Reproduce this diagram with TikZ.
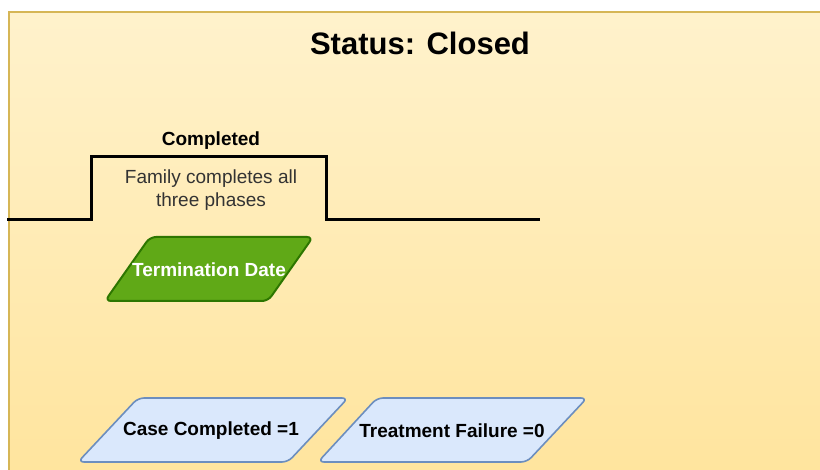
\documentclass[tikz,border=0pt]{standalone}
\usepackage{fontspec}
\setmainfont{Liberation Sans}
\definecolor{panelborder}{HTML}{D6B656}
\definecolor{paneltop}{HTML}{FFF2CC}
\definecolor{panelbottom}{HTML}{FFE49C}
\definecolor{greenfill}{HTML}{60A917}
\definecolor{greenline}{HTML}{2D7600}
\definecolor{bluefill}{HTML}{DAE8FC}
\definecolor{blueline}{HTML}{6C8EBF}
\definecolor{bodytext}{HTML}{333333}
\tikzset{
  label19/.style={font=\fontsize{19}{23}\selectfont, inner sep=0pt},
  bold19/.style={font=\bfseries\fontsize{19}{23}\selectfont, inner sep=0pt},
  greenbox/.style={draw=greenline, fill=greenfill, line width=2pt, rounded corners=6pt},
  bluebox/.style={draw=blueline, fill=bluefill, line width=1.6pt, rounded corners=6pt},
  pulse/.style={line width=3pt, line join=miter, black}
}
\begin{document}
\begin{tikzpicture}[x=1pt,y=-1pt]
\useasboundingbox (0,0) rectangle (820,470);
\fill[white] (0,0) rectangle (820,470);
% status panel
\draw[panelborder, line width=2pt, top color=paneltop, bottom color=panelbottom]
  (9,12) rectangle (840,490);
\node[font=\bfseries\fontsize{31}{36}\selectfont, inner sep=0pt] (title) at (420,43) {Status: Closed};

% phase pulse
\coordinate (p0) at (7,220);
\coordinate (p5) at (540,220);
\draw[pulse] (p0) -- (91,220) -- (91,157) -- (326,157) -- (326,220) -- (p5);
\node[bold19] (completed) at (211,141) {Completed};
\node[label19, align=center, text=bodytext] (desc) at (211,190) {Family completes all\\three phases};

% termination date
\draw[greenbox] (230,237) -- (313,237) -- (268,301) -- (105,301) -- (150,237) -- cycle;
\node[bold19, text=white] (term) at (209,270) {Termination Date};

% outcome flags
\draw[bluebox] (243,398) -- (348,398) -- (288,462) -- (78,462) -- (138,398) -- cycle;
\node[bold19] (casecompleted) at (211,431) {Case Completed =1};
\draw[bluebox] (482,398) -- (587,398) -- (527,462) -- (318,462) -- (377,398) -- cycle;
\node[bold19] (treatfail) at (452,431) {Treatment Failure =0};
\end{tikzpicture}
\end{document}
